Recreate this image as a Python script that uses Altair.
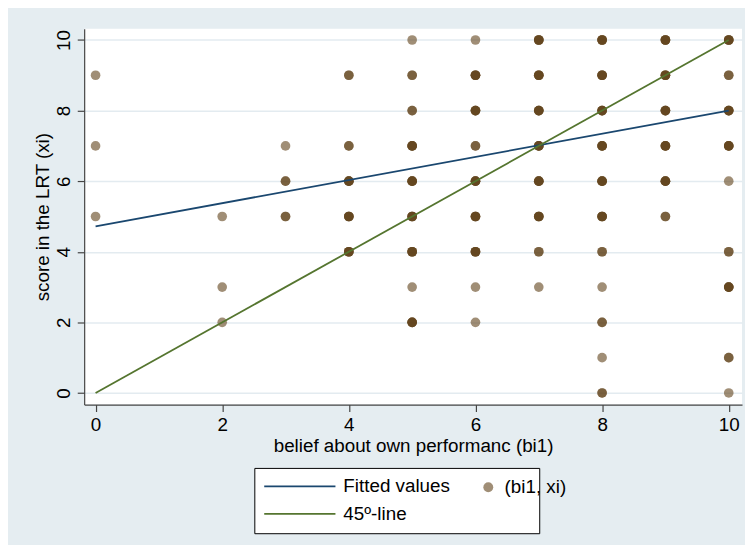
import altair as alt
import pandas as pd

# ---- data ----
# scatter of (bi1, xi); n = overlap count estimated from marker darkness
bi1 = [0, 0, 0,
       2, 2, 2,
       3, 3, 3,
       4, 4, 4, 4, 4,
       5, 5, 5, 5, 5, 5, 5, 5, 5,
       6, 6, 6, 6, 6, 6, 6, 6, 6,
       7, 7, 7, 7, 7, 7, 7, 7,
       8, 8, 8, 8, 8, 8, 8, 8, 8, 8, 8,
       9, 9, 9, 9, 9, 9,
       10, 10, 10, 10, 10, 10, 10, 10, 10]
xi = [9, 7, 5,
      5, 3, 2,
      7, 6, 5,
      9, 7, 6, 5, 4,
      10, 9, 8, 7, 6, 5, 4, 3, 2,
      10, 9, 8, 7, 6, 5, 4, 3, 2,
      10, 9, 8, 7, 6, 5, 4, 3,
      10, 9, 8, 7, 6, 5, 4, 3, 2, 1, 0,
      10, 9, 8, 7, 6, 5,
      10, 9, 8, 7, 6, 4, 3, 1, 0]
n_obs = [1, 1, 1,
         1, 1, 1,
         1, 2, 2,
         2, 2, 4, 4, 4,
         1, 2, 2, 4, 4, 4, 4, 1, 4,
         1, 4, 4, 2, 4, 4, 4, 1, 1,
         4, 4, 4, 4, 4, 4, 2, 1,
         4, 4, 4, 4, 4, 4, 2, 1, 2, 1, 2,
         4, 4, 4, 4, 4, 2,
         4, 2, 4, 4, 1, 2, 4, 2, 1]

fit_x = [0, 10]
fit_y = [4.72, 8.0]
diag_x = [0, 10]
diag_y = [0, 10]

line_names = ["Fitted values", "45\u00ba-line"]
point_name = "(bi1, xi)"
line_colors = ["#1a476f", "#55752f"]
point_color = "#61431a"

# ---- tables ----
pts = pd.DataFrame({"bi1": bi1, "xi": xi, "n": n_obs})
pts = pts.loc[pts.index.repeat(pts["n"])].reset_index(drop=True)
pts["kind"] = point_name

lines = pd.DataFrame({
    "bi1": fit_x + diag_x,
    "xi": fit_y + diag_y,
    "series": [line_names[0]] * 2 + [line_names[1]] * 2,
})

FONT = "Liberation Sans"
FS = 19
SLOT = "__slot__"  # empty legend column that reserves room for the marker entry

xscale = alt.Scale(domain=[-0.18, 10.21], nice=False, zero=False)
yscale = alt.Scale(domain=[-0.33, 10.32], nice=False, zero=False)
ticks = [0, 2, 4, 6, 8, 10]

xaxis = alt.Axis(values=ticks, title="belief about own performanc (bi1)", grid=False,
                 tickSize=7, labelPadding=4, titlePadding=2, format="d")
yaxis = alt.Axis(values=ticks, title="score in the LRT (xi)", grid=True,
                 tickSize=7, labelPadding=4, titlePadding=2, labelAngle=270,
                 labelAlign="center", labelBaseline="bottom", format="d")

line_legend = alt.Legend(
    title=None, orient="none", legendX=172, legendY=444, columns=2,
    values=line_names + [SLOT], zindex=1,
    labelExpr=f"datum.label === '{SLOT}' ? '\u00a0\u00a0\u00a0\u00a0\u00a0\u00a0\u00a0' : datum.label",
    fillColor="white", strokeColor="black", padding=9,
    labelFont=FONT, labelFontSize=FS, labelColor="black", labelLimit=300,
    labelOffset=7, columnPadding=0, rowPadding=8, clipHeight=19,
    symbolType="stroke", symbolSize=5184, symbolStrokeWidth=1.8,
)

point_legend = alt.Legend(
    title=None, orient="none", legendX=399, legendY=454, padding=0, zindex=2,
    labelFont=FONT, labelFontSize=FS, labelColor="black", labelOffset=7,
    clipHeight=19, symbolType="circle", symbolSize=100, symbolStrokeWidth=0,
    symbolOpacity=0.6,
)

line_layer = alt.Chart(lines).mark_line(strokeWidth=1.8).encode(
    x=alt.X("bi1:Q", scale=xscale, axis=xaxis),
    y=alt.Y("xi:Q", scale=yscale, axis=yaxis),
    color=alt.Color("series:N",
                    scale=alt.Scale(domain=line_names + [SLOT],
                                    range=line_colors + ["transparent"]),
                    legend=line_legend),
)

point_layer = alt.Chart(pts).mark_circle(size=95, opacity=0.6).encode(
    x=alt.X("bi1:Q", scale=xscale, axis=xaxis),
    y=alt.Y("xi:Q", scale=yscale, axis=yaxis),
    fill=alt.Fill("kind:N", scale=alt.Scale(domain=[point_name], range=[point_color]),
                  legend=point_legend),
)

chart = alt.layer(point_layer, line_layer).properties(
    width=665, height=380,
    autosize=alt.AutoSizeParams(type="none"),
    padding={"left": 77, "top": 18, "right": 3, "bottom": 139},
    background="#e5edf1",
).configure_view(
    fill="white", strokeWidth=0,
).configure_axis(
    labelFont=FONT, titleFont=FONT, labelFontSize=FS, titleFontSize=FS,
    labelColor="black", titleColor="black", titleFontWeight="normal",
    domainColor="#444444", tickColor="#444444", domainWidth=1.2, tickWidth=1.2,
    gridColor="#e3ebf0", gridWidth=1.5,
)

chart.save("out.html", embed_options={"renderer": "svg", "actions": False})
